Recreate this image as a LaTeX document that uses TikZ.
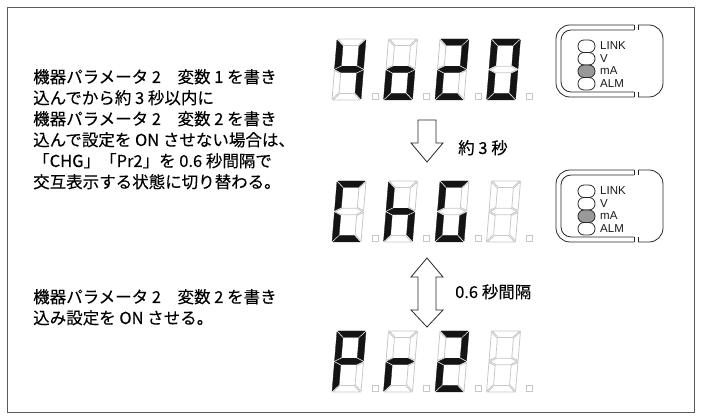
\documentclass[tikz,border=0pt]{standalone}
\usepackage{fontspec}
\setmainfont{Liberation Sans}
\newfontfamily\jp[FakeBold=0.15]{Noto Sans CJK JP}
\newfontfamily\lab{Liberation Sans}
\makeatletter
\newcommand\sseg[3]{\in@{#1}{#2}\ifin@\fill[segon]#3;\else\draw[segoff]#3;\fi}
\makeatother
\newcommand\sdigit[3]{%
  \begin{scope}[shift={(#1,#2)},xslant=0.082]
    \sseg{a}{#3}{(0.9,0)--(28.1,0)--(21.6,6.5)--(7.4,6.5)--cycle}
    \sseg{b}{#3}{(29,0.9)--(29,29.6)--(22.5,26.35)--(22.5,7.4)--cycle}
    \sseg{c}{#3}{(29,31.4)--(29,60.1)--(22.5,53.6)--(22.5,34.65)--cycle}
    \sseg{d}{#3}{(0.9,61)--(7.4,54.5)--(21.6,54.5)--(28.1,61)--cycle}
    \sseg{e}{#3}{(0,31.4)--(6.5,34.65)--(6.5,53.6)--(0,60.1)--cycle}
    \sseg{f}{#3}{(0,0.9)--(6.5,7.4)--(6.5,26.35)--(0,29.6)--cycle}
    \sseg{g}{#3}{(0.9,30.5)--(7.4,27.25)--(21.6,27.25)--(28.1,30.5)--(21.6,33.75)--(7.4,33.75)--cycle}
  \end{scope}
  \draw[segoff,shift={(#1,#2)}] (35,54) rectangle (41,60);
}
\newcommand\ledpanel[2]{%
  \begin{scope}[shift={(#1,#2)}]
    \draw[panel,rounded corners=14] (78,0) -- (0,0) -- (0,72) -- (78,72);
    \draw[panel,rounded corners=10] (78,5) -- (5,5) -- (5,67) -- (78,67);
    \draw[panel] (78,0) -- (78,5) (78,67) -- (78,72);
    \draw[panel,rounded corners=14] (82,0) -- (107,0) -- (107,72) -- (82,72);
    \draw[panel] (82,0) -- (82,5) (82,67) -- (82,72);
    \draw[led] (22,15) rectangle (39,27.5);
    \draw[led] (22,27.5) rectangle (39,40);
    \draw[led,fill=black!40] (22,40) rectangle (39,52.5);
    \draw[led] (22,52.5) rectangle (39,65);
    \node[ledlab] at (44,21) {LINK};
    \node[ledlab] at (44,33.5) {V};
    \node[ledlab] at (44,46) {mA};
    \node[ledlab] at (44,58.5) {ALM};
  \end{scope}
}
\tikzset{
  segon/.style={fill=black!92,draw=black!92,line width=0.3pt},
  segoff/.style={draw=black!22,line width=0.8pt},
  panel/.style={draw=black!85,line width=0.8pt},
  led/.style={draw=black!85,line width=0.8pt,rounded corners=6},
  ledlab/.style={anchor=west,inner sep=0pt,font=\lab\fontsize{11.5}{12}\selectfont,text=black!90},
  jtxt/.style={anchor=base west,inner sep=0pt,font=\jp\fontsize{16.5}{20}\selectfont,text=black},
  blockarrow/.style={draw=black!85,line width=0.8pt,fill=white,line join=miter},
  frame/.style={draw=black!65,line width=0.9pt}
}
\begin{document}
\begin{tikzpicture}[x=1pt,y=-1pt]
  \useasboundingbox (0,0) rectangle (702,419);
  \draw[frame] (7,7) rectangle (694,412);

  % left texts
  \node[jtxt] (t1) at (33,83) {機器パラメータ 2　変数 1 を書き};
  \node[jtxt] (t2) at (33,104) {込んでから約 3 秒以内に};
  \node[jtxt] (t3) at (33,125) {機器パラメータ 2　変数 2 を書き};
  \node[jtxt] (t4) at (33,146) {込んで設定を ON させない場合は、};
  \node[jtxt] (t5) at (33,167) {「CHG」「Pr2」を 0.6 秒間隔で};
  \node[jtxt] (t6) at (33,188) {交互表示する状態に切り替わる。};
  \node[jtxt] (b1) at (33,303) {機器パラメータ 2　変数 2 を書き};
  \node[jtxt] (b2) at (33,324) {込み設定を ON させる。};

  % row 1: 4o20
  \sdigit{337}{39}{bcfg}
  \sdigit{388.5}{39}{cdeg}
  \sdigit{440}{39}{abdeg}
  \sdigit{491.5}{39}{abcdef}
  % row 2: ChG
  \sdigit{337}{181}{adef}
  \sdigit{388.5}{181}{cefg}
  \sdigit{440}{181}{acdef}
  \sdigit{491.5}{181}{}
  % row 3: Pr2
  \sdigit{337}{331}{abefg}
  \sdigit{388.5}{331}{eg}
  \sdigit{440}{331}{abdeg}
  \sdigit{491.5}{331}{}

  % LED panels
  \ledpanel{556}{25}
  \ledpanel{556}{170}

  % arrows
  \draw[blockarrow] (418,120) -- (436,120) -- (436,143) -- (443,143) -- (427,162) -- (411,143) -- (418,143) -- cycle;
  \draw[blockarrow] (427,258) -- (443,277) -- (436,277) -- (436,310) -- (443,310) -- (427,327) -- (411,310) -- (418,310) -- (418,277) -- (411,277) -- cycle;
  \node[jtxt] (l1) at (458,154) {約 3 秒};
  \node[jtxt] (l2) at (455,298) {0.6 秒間隔};
\end{tikzpicture}
\end{document}
